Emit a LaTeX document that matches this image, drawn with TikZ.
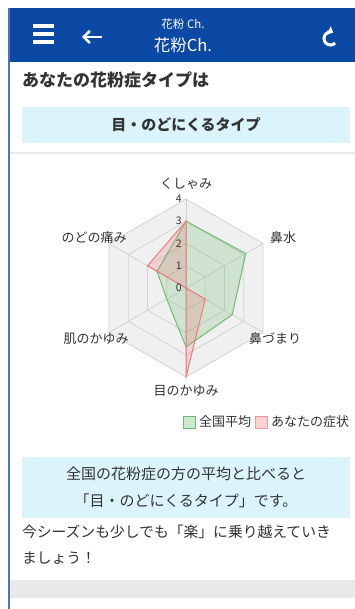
\documentclass[tikz,border=0pt]{standalone}
\usepackage{fontspec}
\setmainfont{Noto Sans CJK JP}
\usetikzlibrary{arrows.meta,positioning}
\definecolor{barblue}{HTML}{0B49A5}
\definecolor{boxblue}{HTML}{DBF4FC}
\definecolor{txtgray}{HTML}{333333}
\definecolor{avggreen}{HTML}{6DBE74}
\definecolor{youred}{HTML}{EE7A80}
\definecolor{bandgray}{HTML}{E9E9E9}

\begin{document}
\begin{tikzpicture}[x=1pt, y=-1pt]
\tikzset{ >=Triangle, inner sep=0pt, outer sep=0pt,
  txt/.style={text=txtgray, font=\fontsize{15}{18}\selectfont},
  axis/.style={text=txtgray, font=\fontsize{13}{15}\selectfont},
  tick/.style={text=txtgray, font=\fontsize{10.5}{12}\selectfont},
  gridline/.style={gray!35, line width=0.8pt},
  legbox/.style={minimum width=12pt, minimum height=12pt, line width=1pt},
}
\useasboundingbox (0,0) rectangle (355,609);
\fill [white] (0,0) rectangle (355,609);

% top bar
\fill [barblue] (9,8) rectangle (355,62);
\draw [barblue!75, line width=2pt] (9,8) -- (9,609);
\foreach \y in {26,34,42}
  \draw [white, line width=3.2pt] (33,\y) -- (54,\y);
\coordinate (backR) at (102,37);
\coordinate (backL) at (82,37);
\draw [white, line width=2.6pt, -{Straight Barb[length=6pt, width=12pt, line width=2.6pt]}] (backR) -- (backL);
\node [white, font=\fontsize{11.5}{13}\selectfont] (sub) at (183,24) {花粉 Ch.};
\node [white, font=\fontsize{16.5}{19}\selectfont] (title) at (183,45) {花粉Ch.};
\coordinate (spin) at (330.5,38.5);
\draw [white, line width=3pt, -{Triangle[length=5pt, width=9pt]}] (spin) ++(45:6.5) arc[start angle=45, end angle=295, radius=6.5];

% result type
\node [anchor=west, text=txtgray, font=\fontsize{17}{20}\selectfont\bfseries] (head) at (22,80) {あなたの花粉症タイプは};
\fill [boxblue] (22,107) rectangle (350,143);
\node [text=txtgray, font=\fontsize{15}{18}\selectfont\bfseries] (type) at (186,125) {目・のどにくるタイプ};
\draw [bandgray, line width=2pt] (10,153) -- (355,153);

% radar chart
\begin{scope}[shift={(186,288)}, x=22.25pt, y=22.25pt]
  \fill [gray!12] (90:4) -- (30:4) -- (-30:4) -- (-90:4) -- (210:4) -- (150:4) -- cycle;
  \foreach \r in {4,3,2,1}
    \draw [gridline] (90:\r) -- (30:\r) -- (-30:\r) -- (-90:\r) -- (210:\r) -- (150:\r) -- cycle;
  \foreach \a in {90,30,-30,-90,-150,150}
    \draw [gridline] (0,0) -- (\a:4);

  \draw [avggreen, line width=1pt, fill=avggreen, fill opacity=0.25]
    (90:3) -- (30:3.1) -- (-30:2.4) -- (-90:2.65) -- (210:1) -- (150:1.5) -- cycle;
  \draw [youred, line width=1pt, fill=youred, fill opacity=0.25]
    (90:3) -- (30:0) -- (-30:1) -- (-90:4) -- (210:0) -- (150:2) -- cycle;

  \foreach \v in {0,...,4}
    \node [tick] (t\v) at (-0.32,\v) {\v};

  \node [axis] (sneeze) at (0,4.67) {くしゃみ};
  \node [axis] (runny) at (4.36,2.25) {鼻水};
  \node [axis] (stuffy) at (4.0,-2.29) {鼻づまり};
  \node [axis] (eyes) at (0,-4.6) {目のかゆみ};
  \node [axis] (skin) at (-4.04,-2.29) {肌のかゆみ};
  \node [axis] (throat) at (-4.13,2.25) {のどの痛み};
\end{scope}

% legend
\node [legbox, draw=avggreen, fill=avggreen!35] (avgbox) at (189,422) {};
\node [axis, right=4pt of avgbox] (avglab) {全国平均};
\node [legbox, draw=youred!80, fill=youred!35] (yoursbox) at (261,422) {};
\node [axis, right=4pt of yoursbox] (yourslab) {あなたの症状};

% comment box
\fill [boxblue] (22,457) rectangle (350,518);
\node [txt, align=center, font=\fontsize{15}{27}\selectfont] (cmp) at (186,487)
  {全国の花粉症の方の平均と比べると\\「目・のどにくるタイプ」です。};
\node [txt, anchor=west, align=left, font=\fontsize{14.8}{26}\selectfont] (msg) at (22,545)
  {今シーズンも少しでも「楽」に乗り越えていき\\ましょう！};
\fill [bandgray] (10,580) rectangle (355,598);
\end{tikzpicture}
\end{document}
